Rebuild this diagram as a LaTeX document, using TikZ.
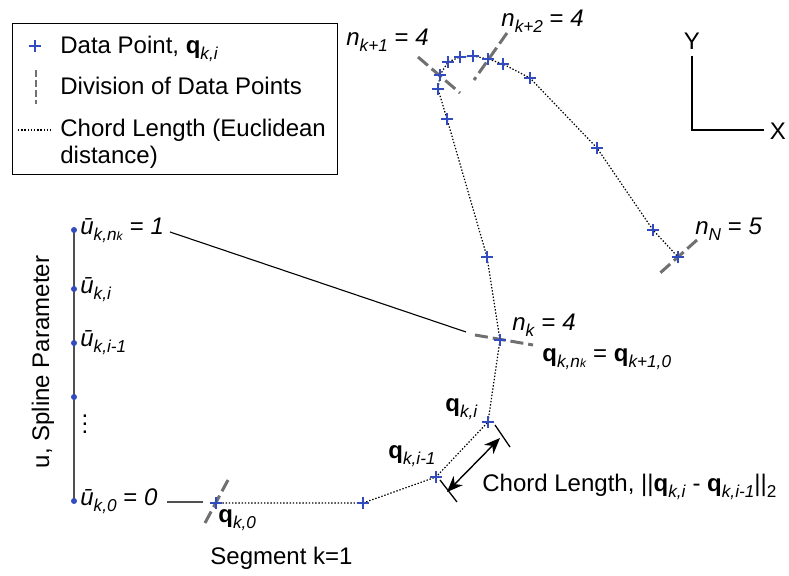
\documentclass[tikz,border=0pt]{standalone}
\usepackage{fontspec}
\setmainfont{Liberation Sans}
\usetikzlibrary{shapes.misc,arrows.meta}
\definecolor{ptblue}{RGB}{50,75,190}
\definecolor{divgray}{RGB}{112,112,112}
\definecolor{axgray}{RGB}{80,80,80}
\newcommand{\qb}{\textbf{q}}
\newcommand{\mysub}[1]{\raisebox{-2.8pt}{\fontsize{8.6}{9}\selectfont\textit{#1}}}
\newcommand{\mysubup}[1]{\raisebox{-2.8pt}{\fontsize{8.6}{9}\selectfont #1}}
\newcommand{\tinyk}{{\fontsize{6}{6}\selectfont\textit{k}}}
\begin{document}
\begin{tikzpicture}[x=0.5pt,y=-0.5pt,
  every node/.style={font=\fontsize{12}{14}\selectfont, inner sep=0pt},
  dp/.style={draw=ptblue, cross out, rotate=45, minimum size=3.6pt, line width=0.55pt},
  udot/.style={circle, fill=ptblue, minimum size=3pt},
  chord/.style={line width=0.6pt, dash pattern=on 0.7pt off 0.9pt},
  division/.style={divgray, line width=1.5pt, dash pattern=on 6.5pt off 2.5pt},
  lbl/.style={anchor=base west},
  thinline/.style={line width=0.55pt}
]
\useasboundingbox (0,0) rectangle (789,576);

% ---------- legend ----------
\node[draw, line width=0.7pt, minimum width=162.5pt, minimum height=75.5pt, anchor=north west] (legend) at (12,23) {};
\node[dp] (legp) at (35,46) {};
\node[lbl] (legt1) at (60,54) {Data Point, \qb\mysub{k,i}};
\coordinate (legda) at (36,70);
\coordinate (legdb) at (36,104);
\draw[divgray, line width=1pt, dash pattern=on 3.5pt off 1.5pt] (legda) -- (legdb);
\node[lbl] (legt2) at (60,95) {Division of Data Points};
\coordinate (legca) at (18,130);
\coordinate (legcb) at (51,130);
\draw[chord] (legca) -- (legcb);
\node[lbl] (legt3) at (60,137) {Chord Length (Euclidean};
\node[lbl] (legt4) at (60,164) {distance)};

% ---------- XY axes ----------
\coordinate (ax0) at (692,130);
\coordinate (axy) at (692,56);
\coordinate (axx) at (764,130);
\draw[thinline] (axy) -- (ax0) -- (axx);
\node (ylab) at (692,41) {Y};
\node (xlab) at (778,131) {X};

% ---------- data points ----------
\coordinate (p0) at (216,503);
\coordinate (p1) at (363,503);
\coordinate (p2) at (436,477);
\coordinate (p3) at (488,422);
\coordinate (p4) at (500,340);
\coordinate (p5) at (487,257);
\coordinate (p6) at (447,119);
\coordinate (p7) at (438,89);
\coordinate (p8) at (440,75);
\coordinate (p9) at (448,62);
\coordinate (p10) at (460,57);
\coordinate (p11) at (473,56);
\coordinate (p12) at (488,59);
\coordinate (p13) at (503,64);
\coordinate (p14) at (530,78);
\coordinate (p15) at (597,148);
\coordinate (p16) at (653,230);
\coordinate (p17) at (678,257);

\draw[chord] (p0) -- (p1) -- (p2) -- (p3) -- (p4) -- (p5) -- (p6) -- (p7)
  -- (p8) -- (p9) -- (p10) -- (p11) -- (p12) -- (p13) -- (p14) -- (p15) -- (p16) -- (p17);

% ---------- divisions ----------
\coordinate (d0a) at (205,523); \coordinate (d0b) at (228,480);
\coordinate (d1a) at (475,335); \coordinate (d1b) at (533,345);
\coordinate (d2a) at (418,57);  \coordinate (d2b) at (460,93);
\coordinate (d3a) at (507,33);  \coordinate (d3b) at (474,80);
\coordinate (d4a) at (697,240); \coordinate (d4b) at (659,274);
\draw[division] (d0a) -- (d0b);
\draw[division] (d1a) -- (d1b);
\draw[division] (d2a) -- (d2b);
\draw[division] (d3a) -- (d3b);
\draw[division] (d4a) -- (d4b);

\foreach \i in {0,...,17} { \node[dp] (m\i) at (p\i) {}; }

% ---------- point labels ----------
\node[lbl] (lnk1) at (346,46) {\textit{n}\mysub{k+1} = \textit{4}};
\node[lbl] (lnk2) at (501,27) {\textit{n}\mysub{k+2} = \textit{4}};
\node[lbl] (lnN)  at (695,235) {\textit{n}\mysub{N} = \textit{5}};
\node[lbl] (lnk)  at (512,331) {\textit{n}\mysub{k} = \textit{4}};
\node[lbl] (lqnk) at (542,362) {\qb\mysub{k,n\tinyk} = \qb\mysub{k+1,0}};
\node[lbl] (lqi)  at (445,412) {\qb\mysub{k,i}};
\node[lbl] (lqi1) at (388,459) {\qb\mysub{k,i-1}};
\node[lbl] (lq0)  at (218,523) {\qb\mysub{k,0}};
\node[lbl] (lseg) at (210,565) {Segment k=1};
\node[lbl] (lcl)  at (482,492) {Chord Length, ||\qb\mysub{k,i} - \qb\mysub{k,i-1}||\mysubup{2}};

% ---------- chord length dimension ----------
\coordinate (t1a) at (495,425); \coordinate (t1b) at (510,447);
\coordinate (t2a) at (440,480); \coordinate (t2b) at (457,502);
\draw[line width=0.65pt] (t1a) -- (t1b);
\draw[line width=0.65pt] (t2a) -- (t2b);
\coordinate (arA) at (500,438);
\coordinate (arB) at (447,492);
\draw[line width=0.7pt, {Stealth[length=8pt,width=6.5pt,inset=2.5pt]}-{Stealth[length=8pt,width=6.5pt,inset=2.5pt]}] (arB) -- (arA);

% ---------- parameter axis ----------
\coordinate (ua) at (74,230);
\coordinate (ub) at (74,501);
\draw[axgray, line width=0.9pt] (ua) -- (ub);
\node[udot] (u4) at (74,230) {};
\node[udot] (u3) at (74,289) {};
\node[udot] (u2) at (74,343) {};
\node[udot] (u1) at (74,397) {};
\node[udot] (u0) at (74,501) {};
\node[lbl] (lu4) at (80,235) {\textit{ū}\mysub{k,n\tinyk} = \textit{1}};
\node[lbl] (lu3) at (80,294) {\textit{ū}\mysub{k,i}};
\node[lbl] (lu2) at (80,347) {\textit{ū}\mysub{k,i-1}};
\node (lu1) at (85,418) {$\vdots$};
\node[lbl] (lu0) at (80,506) {\textit{ū}\mysub{k,0} = \textit{0}};
\node[rotate=90] (lspl) at (43,362) {u, Spline Parameter};

% ---------- connectors ----------
\coordinate (c1) at (170,232);
\coordinate (c2) at (466,332);
\draw[thinline] (c1) -- (c2);
\coordinate (g1) at (167,502);
\coordinate (g2) at (203,502);
\draw[axgray, line width=0.6pt] (g1) -- (g2);
\end{tikzpicture}
\end{document}
